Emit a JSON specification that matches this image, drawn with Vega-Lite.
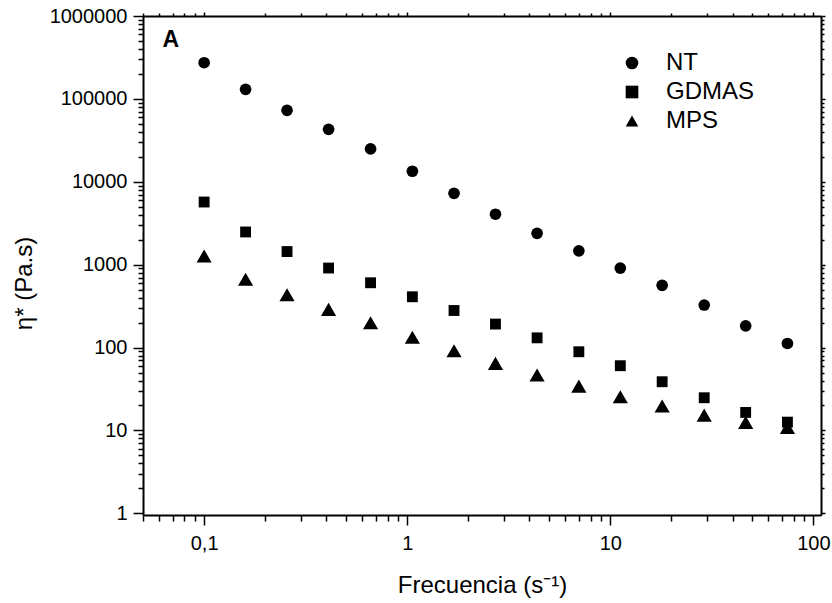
{
  "$schema": "https://vega.github.io/schema/vega-lite/v6.json",
  "autosize": {"type": "none"},
  "padding": {"left": 143, "top": 16, "right": 11, "bottom": 88},
  "width": 678,
  "height": 499,
  "background": "white",
  "config": {
    "view": {"stroke": null},
    "font": "Liberation Sans",
    "axis": {
      "grid": false,
      "domainColor": "black",
      "domainWidth": 2,
      "tickColor": "black",
      "tickWidth": 1.5,
      "labelFont": "Liberation Sans",
      "labelFontSize": 20,
      "labelColor": "black",
      "titleFont": "Liberation Sans",
      "titleFontSize": 24,
      "titleFontWeight": "normal",
      "titleColor": "black"
    }
  },
  "layer": [
    {
      "data": {
        "values": [
          {"f": 0.1, "eta": 273000, "series": "NT"},
          {"f": 0.16, "eta": 130500, "series": "NT"},
          {"f": 0.256, "eta": 72800, "series": "NT"},
          {"f": 0.41, "eta": 42950, "series": "NT"},
          {"f": 0.66, "eta": 24900, "series": "NT"},
          {"f": 1.06, "eta": 13400, "series": "NT"},
          {"f": 1.7, "eta": 7260, "series": "NT"},
          {"f": 2.72, "eta": 4060, "series": "NT"},
          {"f": 4.36, "eta": 2390, "series": "NT"},
          {"f": 7.0, "eta": 1470, "series": "NT"},
          {"f": 11.2, "eta": 911, "series": "NT"},
          {"f": 18.0, "eta": 563, "series": "NT"},
          {"f": 29.0, "eta": 326, "series": "NT"},
          {"f": 46.4, "eta": 183, "series": "NT"},
          {"f": 74.5, "eta": 112, "series": "NT"},
          {"f": 0.1, "eta": 5700, "series": "GDMAS"},
          {"f": 0.16, "eta": 2480, "series": "GDMAS"},
          {"f": 0.256, "eta": 1440, "series": "GDMAS"},
          {"f": 0.41, "eta": 911, "series": "GDMAS"},
          {"f": 0.66, "eta": 605, "series": "GDMAS"},
          {"f": 1.06, "eta": 410, "series": "GDMAS"},
          {"f": 1.7, "eta": 280, "series": "GDMAS"},
          {"f": 2.72, "eta": 192, "series": "GDMAS"},
          {"f": 4.36, "eta": 131, "series": "GDMAS"},
          {"f": 7.0, "eta": 89, "series": "GDMAS"},
          {"f": 11.2, "eta": 60.4, "series": "GDMAS"},
          {"f": 18.0, "eta": 38.7, "series": "GDMAS"},
          {"f": 29.0, "eta": 24.8, "series": "GDMAS"},
          {"f": 46.4, "eta": 16.5, "series": "GDMAS"},
          {"f": 74.5, "eta": 12.6, "series": "GDMAS"},
          {"f": 0.1, "eta": 1271, "series": "MPS"},
          {"f": 0.16, "eta": 666, "series": "MPS"},
          {"f": 0.256, "eta": 434, "series": "MPS"},
          {"f": 0.41, "eta": 289, "series": "MPS"},
          {"f": 0.66, "eta": 199, "series": "MPS"},
          {"f": 1.06, "eta": 133, "series": "MPS"},
          {"f": 1.7, "eta": 91.5, "series": "MPS"},
          {"f": 2.72, "eta": 64.5, "series": "MPS"},
          {"f": 4.36, "eta": 46.6, "series": "MPS"},
          {"f": 7.0, "eta": 34.3, "series": "MPS"},
          {"f": 11.2, "eta": 25.5, "series": "MPS"},
          {"f": 18.0, "eta": 19.7, "series": "MPS"},
          {"f": 29.0, "eta": 15.3, "series": "MPS"},
          {"f": 46.4, "eta": 12.5, "series": "MPS"},
          {"f": 74.5, "eta": 10.9, "series": "MPS"}
        ]
      },
      "mark": {"type": "point", "filled": true, "color": "black", "opacity": 1},
      "encoding": {
        "x": {
          "field": "f", "type": "quantitative",
          "scale": {"type": "log", "domain": [0.05, 109], "nice": false},
          "axis": {
            "orient": "bottom",
            "title": "Frecuencia (s⁻¹)",
            "titleBaseline": "alphabetic",
            "titleY": 77,
            "values": [0.05, 0.06, 0.07, 0.08, 0.09, 0.1, 0.2, 0.3, 0.4, 0.5, 0.6, 0.7, 0.8, 0.9, 1, 2, 3, 4, 5, 6, 7, 8, 9, 10, 20, 30, 40, 50, 60, 70, 80, 90, 100],
            "labelExpr": "abs(log(datum.value)/LN10 - round(log(datum.value)/LN10)) < 1e-6 ? replace(format(datum.value, '~g'), '.', ',') : ''",
            "tickSize": {"condition": {"test": "abs(log(datum.value)/LN10 - round(log(datum.value)/LN10)) < 1e-6", "value": 10}, "value": 6},
            "labelPadding": 8,
            "labelFlush": false,
            "labelOverlap": false
          }
        },
        "y": {
          "field": "eta", "type": "quantitative",
          "scale": {"type": "log", "domain": [0.955, 1000000], "nice": false},
          "axis": {
            "orient": "left",
            "title": "η* (Pa.s)",
            "titleAngle": -90,
            "titleBaseline": "alphabetic",
            "titleAlign": "center",
            "titleX": -112,
            "titleY": 267,
            "values": [1, 2, 3, 4, 5, 6, 7, 8, 9, 10, 20, 30, 40, 50, 60, 70, 80, 90, 100, 200, 300, 400, 500, 600, 700, 800, 900, 1000, 2000, 3000, 4000, 5000, 6000, 7000, 8000, 9000, 10000, 20000, 30000, 40000, 50000, 60000, 70000, 80000, 90000, 100000, 200000, 300000, 400000, 500000, 600000, 700000, 800000, 900000, 1000000],
            "labelExpr": "abs(log(datum.value)/LN10 - round(log(datum.value)/LN10)) < 1e-6 ? format(datum.value, 'd') : ''",
            "tickSize": {"condition": {"test": "abs(log(datum.value)/LN10 - round(log(datum.value)/LN10)) < 1e-6", "value": 10}, "value": 5},
            "labelPadding": 6,
            "labelFlush": false,
            "labelOverlap": false
          }
        },
        "shape": {
          "field": "series", "type": "nominal",
          "scale": {"domain": ["NT", "GDMAS", "MPS"], "range": ["circle", "square", "triangle-up"]},
          "legend": {
            "orient": "none",
            "legendX": 477,
            "legendY": 35,
            "title": null,
            "padding": 0,
            "symbolSize": 160,
            "symbolFillColor": "black",
            "symbolStrokeColor": "black",
            "symbolStrokeWidth": 0,
            "labelFont": "Liberation Sans",
            "labelFontSize": 24,
            "labelColor": "black",
            "labelOffset": 22,
            "rowPadding": 5,
            "encode": {
              "symbols": {
                "update": {
                  "size": {"signal": "datum.value === 'MPS' ? 250 : datum.value === 'GDMAS' ? 118 : 137"}
                }
              }
            }
          }
        },
        "size": {
          "condition": [
            {"test": "datum.series === 'MPS'", "value": 230},
            {"test": "datum.series === 'GDMAS'", "value": 118}
          ],
          "value": 137
        }
      }
    },
    {
      "data": {"values": [{"f": 0.0624, "eta": 419000, "label": "A"}]},
      "mark": {"type": "text", "align": "left", "baseline": "alphabetic", "font": "Liberation Sans", "fontSize": 23, "fontWeight": "bold", "color": "black"},
      "encoding": {
        "x": {
          "field": "f", "type": "quantitative",
          "axis": {
            "orient": "top", "title": null, "labels": false,
            "values": [0.05, 0.06, 0.07, 0.08, 0.09, 0.1, 0.2, 0.3, 0.4, 0.5, 0.6, 0.7, 0.8, 0.9, 1, 2, 3, 4, 5, 6, 7, 8, 9, 10, 20, 30, 40, 50, 60, 70, 80, 90, 100],
            "tickSize": {"condition": {"test": "abs(log(datum.value)/LN10 - round(log(datum.value)/LN10)) < 1e-6", "value": 4}, "value": 3}
          }
        },
        "y": {
          "field": "eta", "type": "quantitative",
          "axis": {
            "orient": "right", "title": null, "labels": false,
            "values": [1, 2, 3, 4, 5, 6, 7, 8, 9, 10, 20, 30, 40, 50, 60, 70, 80, 90, 100, 200, 300, 400, 500, 600, 700, 800, 900, 1000, 2000, 3000, 4000, 5000, 6000, 7000, 8000, 9000, 10000, 20000, 30000, 40000, 50000, 60000, 70000, 80000, 90000, 100000, 200000, 300000, 400000, 500000, 600000, 700000, 800000, 900000, 1000000],
            "tickSize": {"condition": {"test": "abs(log(datum.value)/LN10 - round(log(datum.value)/LN10)) < 1e-6", "value": 4}, "value": 3}
          }
        },
        "text": {"field": "label", "type": "nominal"}
      }
    }
  ]
}
